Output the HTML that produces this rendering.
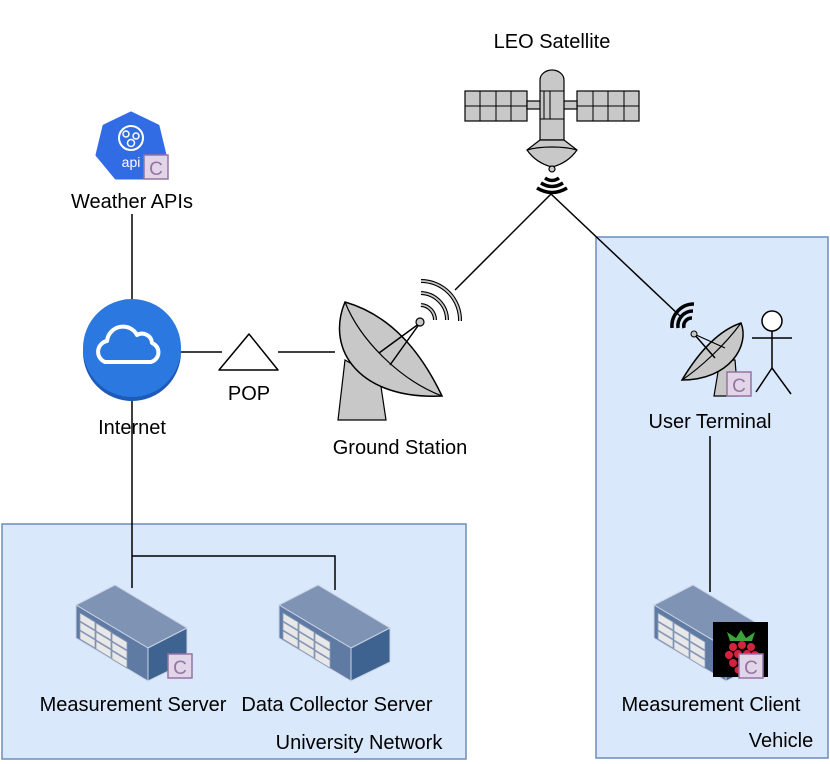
<!DOCTYPE html>
<html><head><meta charset="utf-8"><style>
html,body{margin:0;padding:0;background:#fff;}
svg{display:block;font-family:"Liberation Sans",sans-serif;}
</style></head><body>
<svg width="830" height="764" viewBox="0 0 830 764" xmlns="http://www.w3.org/2000/svg">
<defs>
<g id="server">
  <polygon points="39,0 0,20 72,63 111,43" fill="#7f93b5" stroke="#c9d3e3" stroke-width="1"/>
  <polygon points="0,20 72,63 72,96 0,53" fill="#5f7aa3" stroke="#c9d3e3" stroke-width="1"/>
  <polygon points="72,63 111,43 111,77 72,96" fill="#3f6391" stroke="#c9d3e3" stroke-width="1"/>
  <g fill="#e8e8e8" stroke="#8a9bb8" stroke-width="0.8">
    <polygon points="4,28 19,37 19,45 4,36"/><polygon points="20,38 35,47 35,55 20,46"/><polygon points="36,48 51,57 51,65 36,56"/>
    <polygon points="4,37 19,46 19,54 4,45"/><polygon points="20,47 35,56 35,64 20,55"/><polygon points="36,57 51,66 51,74 36,65"/>
    <polygon points="4,46 19,55 19,63 4,54"/><polygon points="20,56 35,65 35,73 20,64"/><polygon points="36,66 51,75 51,83 36,74"/>
  </g>
</g>
<g id="cbadge">
  <rect x="0" y="0" width="24" height="24" fill="#e1d5e7" stroke="#9673a6" stroke-width="1.5"/>
  <text x="12" y="20" font-size="19" text-anchor="middle" fill="#9673a6">C</text>
</g>
</defs>

<rect x="2" y="524" width="464" height="235" fill="#dae8fc" stroke="#6c8ebf" stroke-width="1.5"/>
<rect x="596" y="237" width="232" height="521" fill="#dae8fc" stroke="#6c8ebf" stroke-width="1.5"/>

<g stroke="#000" stroke-width="1.5" fill="none">
  <line x1="132" y1="214" x2="132" y2="300"/>
  <line x1="132" y1="396" x2="132" y2="588"/>
  <polyline points="132,556 335,556 335,590"/>
  <line x1="181" y1="352" x2="222" y2="352"/>
  <line x1="278" y1="352" x2="335" y2="352"/>
  <line x1="455" y1="290" x2="551" y2="194"/>
  <line x1="551" y1="194" x2="680" y2="316"/>
  <line x1="710" y1="436" x2="710" y2="592"/>
</g>

<polygon points="131,113 158,126 165,155 146,178 116,178 97,155 104,126" fill="#326ce5" stroke="#326ce5" stroke-width="3" stroke-linejoin="round"/>
<circle cx="131" cy="138" r="12" fill="none" stroke="#fff" stroke-width="2"/>
<circle cx="126" cy="134" r="3" fill="none" stroke="#fff" stroke-width="1.5"/>
<circle cx="136" cy="136" r="3" fill="none" stroke="#fff" stroke-width="1.5"/>
<circle cx="131" cy="143" r="3.5" fill="none" stroke="#fff" stroke-width="1.5"/>
<text x="131" y="167" font-size="14" fill="#fff" text-anchor="middle">api</text>
<use href="#cbadge" x="144" y="155"/>
<text x="132" y="208" font-size="20" text-anchor="middle">Weather APIs</text>

<circle cx="132" cy="352" r="49" fill="#1e5bb8"/>
<circle cx="132" cy="348" r="49" fill="#2a78e0"/>
<path d="M105,362 a11,11 0 0 1 2,-21 a16,16 0 0 1 30,-6 a10,10 0 0 1 15,8 a10,10 0 0 1 -1,19 z" fill="none" stroke="#fff" stroke-width="4" stroke-linejoin="round"/>
<text x="132" y="434" font-size="20" text-anchor="middle">Internet</text>

<polygon points="249,334 278,370 219,370" fill="#fff" stroke="#000" stroke-width="1.5" stroke-linejoin="round"/>
<text x="249" y="400" font-size="20" text-anchor="middle">POP</text>

<polygon points="345,360 380,380 386,420 338,420" fill="#c8c8c8" stroke="#000" stroke-width="1.2"/>
<path d="M345,302 C325,350 360,400 442,396 C420,350 390,315 345,302 Z" fill="#c8c8c8" stroke="#000" stroke-width="1.5"/>
<path d="M345,302 C360,340 400,380 442,396" fill="none" stroke="#000" stroke-width="1.2"/>
<line x1="379" y1="353" x2="420" y2="323" stroke="#000" stroke-width="1.5"/>
<line x1="390" y1="365" x2="420" y2="323" stroke="#000" stroke-width="1.5"/>
<circle cx="420" cy="322" r="4" fill="#c8c8c8" stroke="#000" stroke-width="1.2"/>
<g fill="none" stroke="#000" stroke-width="4">
  <path d="M421,305 a15,15 0 0 1 14,15"/>
  <path d="M421,293 a27,27 0 0 1 26,27"/>
  <path d="M421,281 a39,39 0 0 1 39,40"/>
</g>
<g fill="none" stroke="#c8c8c8" stroke-width="1.8">
  <path d="M421,305 a15,15 0 0 1 14,15"/>
  <path d="M421,293 a27,27 0 0 1 26,27"/>
  <path d="M421,281 a39,39 0 0 1 39,40"/>
</g>
<text x="400" y="454" font-size="20" text-anchor="middle">Ground Station</text>

<text x="552" y="48" font-size="20" text-anchor="middle">LEO Satellite</text>
<g stroke="#000" stroke-width="1.2" fill="#c8c8c8">
  <rect x="465" y="91" width="62" height="30"/>
  <rect x="577" y="91" width="62" height="30"/>
  <rect x="527" y="101" width="14" height="8"/>
  <rect x="563" y="101" width="14" height="8"/>
  <path d="M540,80 a12,10 0 0 1 24,0 V140 H540 Z"/>
  <path d="M527,150 L540,140 H564 L577,150 C570,160 560,165 552,167 C544,165 534,160 527,150 Z"/>
  <path d="M527,150 C540,146 564,146 577,150" fill="none"/>
  <circle cx="552" cy="169" r="3"/>
</g>
<g stroke="#000" stroke-width="1" fill="none">
  <line x1="480" y1="91" x2="480" y2="121"/><line x1="496" y1="91" x2="496" y2="121"/><line x1="511" y1="91" x2="511" y2="121"/><line x1="465" y1="106" x2="527" y2="106"/>
  <line x1="593" y1="91" x2="593" y2="121"/><line x1="608" y1="91" x2="608" y2="121"/><line x1="624" y1="91" x2="624" y2="121"/><line x1="577" y1="106" x2="639" y2="106"/>
  <line x1="540" y1="91" x2="564" y2="91"/><line x1="540" y1="119" x2="564" y2="119"/>
  <line x1="544" y1="91" x2="544" y2="119"/><line x1="550" y1="91" x2="550" y2="119"/>
</g>
<g fill="none" stroke="#000" stroke-width="3.5">
  <path d="M545,178 q7,5 14,0"/><path d="M541,183 q11,7 22,0"/><path d="M537,188 q15,9 30,0"/>
</g>

<polygon points="720,360 735,360 738,396 714,396" fill="#c8c8c8" stroke="#000" stroke-width="1.2"/>
<path d="M741,323 C750,345 730,380 682,380 C700,350 720,330 741,323 Z" fill="#c8c8c8" stroke="#000" stroke-width="1.5"/>
<path d="M741,323 C725,345 700,368 682,380" fill="none" stroke="#000" stroke-width="1.2"/>
<line x1="694" y1="334" x2="715" y2="358" stroke="#000" stroke-width="1.5"/>
<line x1="694" y1="334" x2="725" y2="348" stroke="#000" stroke-width="1.2"/>
<circle cx="694" cy="334" r="3" fill="#c8c8c8" stroke="#000"/>
<g fill="none" stroke="#000" stroke-width="3.5">
  <path d="M692,318 a8,8 0 0 0 -8,10"/><path d="M693,311 a15,15 0 0 0 -15,17"/><path d="M694,304 a22,22 0 0 0 -22,24"/>
</g>
<circle cx="772" cy="321" r="10" fill="#fff" stroke="#000" stroke-width="1.5"/>
<g stroke="#000" stroke-width="1.5">
  <line x1="772" y1="331" x2="772" y2="368"/><line x1="752" y1="338" x2="792" y2="338"/>
  <line x1="772" y1="368" x2="756" y2="392"/><line x1="772" y1="368" x2="791" y2="394"/>
</g>
<use href="#cbadge" x="727" y="372"/>
<text x="710" y="428" font-size="20" text-anchor="middle">User Terminal</text>

<use href="#server" x="76" y="585"/>
<use href="#cbadge" x="168" y="654"/>
<text x="133" y="711" font-size="20" text-anchor="middle">Measurement Server</text>
<use href="#server" x="279" y="585"/>
<text x="337" y="711" font-size="20" text-anchor="middle">Data Collector Server</text>
<text x="359" y="749" font-size="20" text-anchor="middle">University Network</text>

<use href="#server" x="654" y="585"/>
<rect x="713" y="622" width="55" height="55" fill="#000"/>
<path d="M727,632 l9,6 l5,-8 l5,8 l9,-6 l-3,9 h-22 z" fill="#3ca33c"/>
<g fill="#d6223e">
  <circle cx="733" cy="647" r="4"/><circle cx="742" cy="645" r="4"/><circle cx="751" cy="647" r="4"/>
  <circle cx="729" cy="655" r="4"/><circle cx="738" cy="654" r="4"/><circle cx="747" cy="654" r="4"/><circle cx="755" cy="655" r="4"/>
  <circle cx="733" cy="663" r="4"/><circle cx="742" cy="662" r="4"/><circle cx="751" cy="663" r="4"/>
  <circle cx="738" cy="670" r="3.5"/><circle cx="746" cy="670" r="3.5"/>
</g>
<use href="#cbadge" x="739" y="654"/>
<text x="711" y="711" font-size="20" text-anchor="middle">Measurement Client</text>
<text x="781" y="747" font-size="20" text-anchor="middle">Vehicle</text>
</svg>
</body></html>
